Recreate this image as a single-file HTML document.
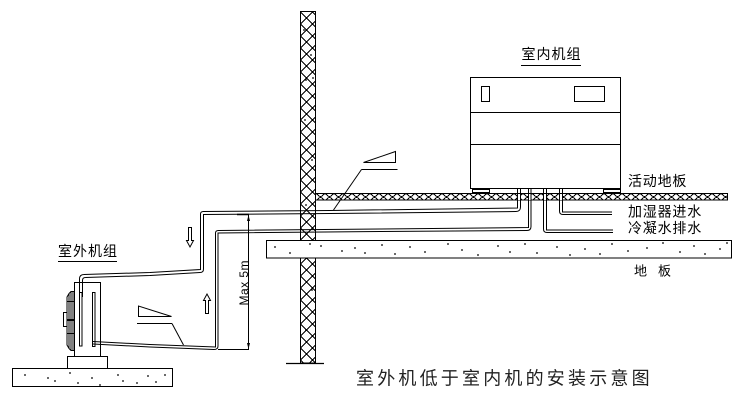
<!DOCTYPE html>
<html><head><meta charset="utf-8"><style>
html,body{margin:0;padding:0;background:#fff;}
svg{display:block;}
text{font-family:"Liberation Sans","Noto Sans CJK SC",sans-serif;fill:#000;}
</style></head><body>
<svg width="749" height="405" viewBox="0 0 749 405" xmlns="http://www.w3.org/2000/svg">
<defs>
<pattern id="wh" patternUnits="userSpaceOnUse" x="300.5" y="12" width="12" height="12">
<path d="M0 0L12 12M12 0L0 12" stroke="#000" stroke-width="1" fill="none" shape-rendering="crispEdges"/>
</pattern>
<pattern id="fh" patternUnits="userSpaceOnUse" x="316" y="193.5" width="9" height="7">
<path d="M0 0L9 7M9 0L0 7" stroke="#000" stroke-width="1" fill="none" shape-rendering="crispEdges"/>
</pattern>
</defs>
<rect width="749" height="405" fill="#fff"/>

<!-- wall -->
<rect x="300.5" y="11.5" width="15" height="351.5" fill="url(#wh)" stroke="#000" stroke-width="1"/>
<line x1="286" y1="363.5" x2="324" y2="363.5" stroke="#000" stroke-width="1.2"/>
<g fill="#000">
<circle cx="304" cy="30" r="0.9"/><circle cx="311" cy="55" r="0.9"/><circle cx="306" cy="80" r="0.9"/>
<circle cx="313" cy="78" r="0.9"/><circle cx="305" cy="120" r="0.9"/><circle cx="312" cy="160" r="0.9"/>
<circle cx="306" cy="205" r="0.9"/><circle cx="312" cy="290" r="0.9"/><circle cx="306" cy="330" r="0.9"/>
</g>

<!-- raised floor -->
<rect x="315.5" y="193.5" width="412" height="6.5" fill="url(#fh)" stroke="#000" stroke-width="1"/>

<!-- concrete slab -->
<rect x="266.5" y="240.5" width="465" height="17.5" fill="#fff" stroke="#000" stroke-width="1"/>
<g fill="#000">
<circle cx="275" cy="247" r="0.9"/><circle cx="290" cy="253" r="0.9"/><circle cx="310" cy="244" r="0.9"/>
<circle cx="321" cy="246" r="0.9"/><circle cx="342" cy="251" r="0.9"/><circle cx="355" cy="248" r="0.9"/>
<circle cx="365" cy="253" r="0.9"/><circle cx="382" cy="245" r="0.9"/><circle cx="395" cy="254" r="0.9"/>
<circle cx="410" cy="247" r="0.9"/><circle cx="425" cy="252" r="0.9"/><circle cx="448" cy="244" r="0.9"/>
<circle cx="462" cy="250" r="0.9"/><circle cx="478" cy="255" r="0.9"/><circle cx="498" cy="246" r="0.9"/>
<circle cx="510" cy="252" r="0.9"/><circle cx="525" cy="244" r="0.9"/><circle cx="537" cy="253" r="0.9"/>
<circle cx="557" cy="247" r="0.9"/><circle cx="570" cy="255" r="0.9"/><circle cx="585" cy="249" r="0.9"/>
<circle cx="600" cy="254" r="0.9"/><circle cx="612" cy="244" r="0.9"/><circle cx="628" cy="251" r="0.9"/>
<circle cx="647" cy="248" r="0.9"/><circle cx="663" cy="243" r="0.9"/><circle cx="680" cy="252" r="0.9"/>
<circle cx="694" cy="246" r="0.9"/><circle cx="705" cy="254" r="0.9"/><circle cx="720" cy="249" r="0.9"/>
<circle cx="727" cy="243" r="0.9"/>
</g>

<!-- indoor unit -->
<g stroke="#000" stroke-width="1" fill="none">
<rect x="470.5" y="77.5" width="150" height="111" fill="#fff"/>
<line x1="470.5" y1="112.5" x2="620.5" y2="112.5"/>
<line x1="470.5" y1="144.5" x2="620.5" y2="144.5"/>
<rect x="481.5" y="86.5" width="8" height="15"/>
<rect x="574.5" y="86.5" width="30" height="15"/>
<rect x="472.5" y="188.5" width="17" height="4" fill="#fff"/>
<rect x="603.5" y="188.5" width="17" height="4" fill="#fff"/>
<line x1="472.5" y1="189.5" x2="489.5" y2="189.5"/>
<line x1="603.5" y1="189.5" x2="620.5" y2="189.5"/>
</g>
<text x="521.5" y="59" font-size="14" letter-spacing="1">室内机组</text>
<line x1="521" y1="65.5" x2="581" y2="65.5" stroke="#000" stroke-width="1"/>

<!-- white gaps for pipes through raised floor -->
<g fill="#fff">
<rect x="518" y="194" width="2" height="6"/>
<rect x="529" y="194" width="2" height="6"/>
<rect x="544" y="194" width="2" height="6"/>
<rect x="560" y="194" width="2" height="6"/>
</g>

<!-- pipes -->
<g stroke="#000" stroke-width="1" fill="none">
<path d="M79.5 297 V279 Q79.5 274.5 84 274.5 L150 272.5 L200.5 269.5 V214 Q200.5 211.5 203.5 211.5 L330 210.5 L517.5 208 V188.5"/>
<path d="M82.5 297 V280.5 Q82.5 277.5 85.5 277.5 L150 275.5 L200 272.5 Q203.5 272.5 203.5 269 V214.5 L330 213.5 L516 211.5 Q520.5 211.5 520.5 207 V188.5"/>
<path d="M93 341.5 L150 344.5 L215.5 347 V233 Q215.5 230.5 218.5 230.5 L380 229 L528.5 227.5 V188.5"/>
<path d="M93 344 L150 347 L214 349.5 Q218 349.5 218 346 V233 L380 231.5 L527 230.5 Q531 230.5 531 226.5 V188.5"/>
<path d="M543.5 188.5 V229 Q543.5 232.5 547 232.5 L613 232.5"/>
<path d="M546.5 188.5 V230 L613 230"/>
<path d="M559.5 188.5 V211 Q559.5 214.5 563 214.5 L612 214.5"/>
<path d="M562.5 188.5 V212 L612 212"/>
</g>

<!-- labels right -->
<text x="628" y="186" font-size="14" letter-spacing="0.8">活动地板</text>
<text x="628" y="216.5" font-size="14" letter-spacing="0.8">加湿器进水</text>
<text x="628" y="233" font-size="14" letter-spacing="0.8">冷凝水排水</text>
<text x="634" y="275.5" font-size="13">地</text>
<text x="658" y="275.5" font-size="13">板</text>

<!-- flags -->
<g stroke="#000" stroke-width="1" fill="none">
<path d="M363.5 162.5 L395.5 151.5 L395.5 162.5 Z"/>
<line x1="361.5" y1="169.5" x2="397.5" y2="169.5"/>
<line x1="361.5" y1="169.5" x2="333.5" y2="210"/>
<path d="M138.5 306 L138.5 316.5 L171.5 316.5 Z"/>
<line x1="137" y1="323.5" x2="172" y2="323.5"/>
<line x1="172" y1="323.5" x2="183.5" y2="345"/>
</g>

<!-- dimension -->
<g stroke="#000" stroke-width="1" fill="none">
<line x1="248.5" y1="214.5" x2="248.5" y2="349.5"/>
<line x1="237" y1="214.5" x2="249" y2="214.5" stroke-width="1.5"/>
<line x1="218" y1="349.5" x2="249" y2="349.5"/>
</g>
<path d="M248.5 215 L247 221 L250 221 Z" fill="#000"/>
<path d="M248.5 349 L247 343 L250 343 Z" fill="#000"/>
<text x="0" y="0" font-size="12" transform="translate(248,283) rotate(-90)" text-anchor="middle" textLength="45">Max 5m</text>

<!-- flow arrows -->
<g stroke="#000" stroke-width="1" fill="#fff">
<path d="M188.5 227.5 H191.5 V240.5 H193.5 L190 247 L186.5 240.5 H188.5 Z"/>
<path d="M205.5 313.5 H208.5 V300.5 H210.5 L207 294 L203.5 300.5 H205.5 Z"/>
</g>

<!-- outdoor unit -->
<g stroke="#000" stroke-width="1" fill="none">
<rect x="12.5" y="368.5" width="160" height="18" fill="#fff"/>
<rect x="67.5" y="356.5" width="40" height="12" fill="#fff"/>
<rect x="74.5" y="282.5" width="26" height="74"/>
<rect x="79.5" y="292.5" width="2.5" height="53.5"/>
<rect x="92.5" y="292.5" width="2.5" height="54"/>
<path d="M74.5 291.5 H71 L69 293.5 L67 297 V345 L69 348.5 L71 350.5 H74.5"/>
<line x1="69" y1="293.5" x2="69" y2="348.5"/>
<line x1="71" y1="291.5" x2="71" y2="350.5"/>
<line x1="73" y1="291.5" x2="73" y2="350.5"/>
<line x1="67" y1="301.5" x2="74.5" y2="301.5"/>
<line x1="67" y1="333.5" x2="74.5" y2="333.5"/>
<rect x="63.5" y="312.5" width="3.5" height="14"/>
<line x1="67" y1="320" x2="74.5" y2="320" stroke-width="2"/>
</g>
<g fill="#000">
<circle cx="25" cy="375" r="0.9"/><circle cx="48" cy="378" r="0.9"/><circle cx="55" cy="381" r="0.9"/>
<circle cx="70" cy="373" r="0.9"/><circle cx="78" cy="383" r="0.9"/><circle cx="92" cy="378" r="0.9"/>
<circle cx="100" cy="385" r="0.9"/><circle cx="118" cy="375" r="0.9"/><circle cx="123" cy="381" r="0.9"/>
<circle cx="137" cy="383" r="0.9"/><circle cx="148" cy="376" r="0.9"/><circle cx="156" cy="382" r="0.9"/>
<circle cx="165" cy="375" r="0.9"/>
</g>
<text x="58" y="256" font-size="14" letter-spacing="1">室外机组</text>
<line x1="58" y1="261.5" x2="117" y2="261.5" stroke="#000" stroke-width="1"/>

<!-- caption -->
<text x="356" y="384.5" font-size="18" letter-spacing="3.2" style="fill:#222">室外机低于室内机的安装示意图</text>
</svg>
</body></html>
